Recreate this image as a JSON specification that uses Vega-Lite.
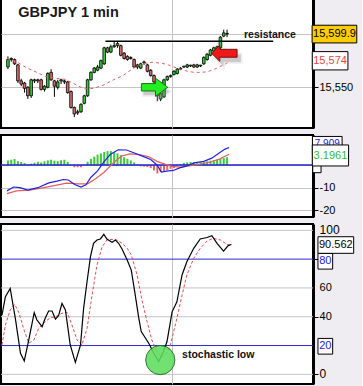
{
  "$schema": "https://vega.github.io/schema/vega-lite/v6.json",
  "background": "#efedf1",
  "padding": {"left": -2, "top": -2, "right": 2, "bottom": 1},
  "spacing": 7,
  "bounds": "flush",
  "config": {
    "view": {"stroke": "black", "strokeWidth": 2, "fill": "white"},
    "font": "Liberation Sans",
    "axis": {"labelFont": "Liberation Sans", "labelFontSize": 11, "labelColor": "black", "tickColor": "black", "gridColor": "#c4c4c4", "domainColor": "black", "labelOverlap": false}
  },
  "datasets": {
    "one": [{}],
    "stochLabels": [
      {"v": 100, "w": "bold", "s": 12},
      {"v": 60, "w": "normal", "s": 11},
      {"v": 40, "w": "normal", "s": 11},
      {"v": 0, "w": "bold", "s": 12}
    ],
    "bars": [
      {"i":0,"o":15569,"h":15579,"l":15567,"c":15576,"m":2.0},
      {"i":1,"o":15576,"h":15578,"l":15574,"c":15577,"m":2.3},
      {"i":2,"o":15576,"h":15577,"l":15571,"c":15572,"m":2.6},
      {"i":3,"o":15571,"h":15572,"l":15554,"c":15556,"m":1.7},
      {"i":4,"o":15556,"h":15558,"l":15551,"c":15553,"m":1.3},
      {"i":5,"o":15554,"h":15555,"l":15545,"c":15549,"m":0.9},
      {"i":6,"o":15550,"h":15551,"l":15539,"c":15542,"m":0.2},
      {"i":7,"o":15542,"h":15558,"l":15540,"c":15557,"m":0.6},
      {"i":8,"o":15556,"h":15558,"l":15554,"c":15557,"m":1.0},
      {"i":9,"o":15557,"h":15558,"l":15554,"c":15556,"m":1.4},
      {"i":10,"o":15557,"h":15558,"l":15547,"c":15548,"m":1.1},
      {"i":11,"o":15548,"h":15552,"l":15546,"c":15551,"m":1.6},
      {"i":12,"o":15550,"h":15564,"l":15549,"c":15563,"m":2.0},
      {"i":13,"o":15564,"h":15567,"l":15556,"c":15557,"m":2.3},
      {"i":14,"o":15556,"h":15557,"l":15541,"c":15551,"m":1.9},
      {"i":15,"o":15550,"h":15557,"l":15548,"c":15555,"m":1.7},
      {"i":16,"o":15556,"h":15558,"l":15553,"c":15557,"m":2.1},
      {"i":17,"o":15556,"h":15557,"l":15553,"c":15555,"m":2.3},
      {"i":18,"o":15555,"h":15556,"l":15544,"c":15545,"m":1.4},
      {"i":19,"o":15546,"h":15547,"l":15530,"c":15531,"m":0.1},
      {"i":20,"o":15531,"h":15532,"l":15522,"c":15525,"m":-1.0},
      {"i":21,"o":15527,"h":15529,"l":15524,"c":15526,"m":-1.0},
      {"i":22,"o":15527,"h":15535,"l":15526,"c":15534,"m":-1.0},
      {"i":23,"o":15535,"h":15543,"l":15534,"c":15542,"m":0.1},
      {"i":24,"o":15542,"h":15558,"l":15541,"c":15557,"m":1.4},
      {"i":25,"o":15557,"h":15565,"l":15556,"c":15564,"m":2.7},
      {"i":26,"o":15564,"h":15569,"l":15563,"c":15568,"m":3.7},
      {"i":27,"o":15566,"h":15571,"l":15565,"c":15569,"m":4.6},
      {"i":28,"o":15568,"h":15576,"l":15567,"c":15575,"m":5.1},
      {"i":29,"o":15572,"h":15588,"l":15571,"c":15587,"m":5.7},
      {"i":30,"o":15587,"h":15588,"l":15582,"c":15583,"m":6.1},
      {"i":31,"o":15583,"h":15590,"l":15582,"c":15588,"m":6.1},
      {"i":32,"o":15588,"h":15593,"l":15587,"c":15589,"m":5.7},
      {"i":33,"o":15589,"h":15593,"l":15587,"c":15591,"m":5.1},
      {"i":34,"o":15589,"h":15590,"l":15579,"c":15580,"m":4.3},
      {"i":35,"o":15582,"h":15583,"l":15576,"c":15577,"m":3.4},
      {"i":36,"o":15579,"h":15580,"l":15575,"c":15576,"m":2.7},
      {"i":37,"o":15577,"h":15579,"l":15576,"c":15578,"m":2.0},
      {"i":38,"o":15576,"h":15577,"l":15568,"c":15569,"m":1.1},
      {"i":39,"o":15569,"h":15572,"l":15567,"c":15571,"m":0.1},
      {"i":40,"o":15568,"h":15573,"l":15567,"c":15572,"m":-0.6},
      {"i":41,"o":15573,"h":15575,"l":15571,"c":15573.8,"m":-0.7},
      {"i":42,"o":15571,"h":15572,"l":15564,"c":15565,"m":-0.9},
      {"i":43,"o":15566,"h":15567,"l":15560,"c":15561,"m":-1.4},
      {"i":44,"o":15561,"h":15562,"l":15553,"c":15555,"m":-2.4},
      {"i":45,"o":15555,"h":15556,"l":15537,"c":15542,"m":-3.7},
      {"i":46,"o":15539,"h":15545,"l":15537,"c":15544,"m":-3.1},
      {"i":47,"o":15541,"h":15558,"l":15540,"c":15557,"m":-2.7},
      {"i":48,"o":15557,"h":15561,"l":15556,"c":15560,"m":-2.3},
      {"i":49,"o":15560,"h":15562,"l":15559,"c":15561,"m":-1.7},
      {"i":50,"o":15562,"h":15566,"l":15561,"c":15565,"m":-1.3},
      {"i":51,"o":15563,"h":15568,"l":15562,"c":15567,"m":0.2},
      {"i":52,"o":15567,"h":15569,"l":15566,"c":15567.8,"m":0.4},
      {"i":53,"o":15569,"h":15570,"l":15568,"c":15569.8,"m":0.9},
      {"i":54,"o":15569,"h":15572,"l":15568,"c":15571,"m":1.1},
      {"i":55,"o":15570,"h":15571,"l":15569,"c":15570.8,"m":1.3},
      {"i":56,"o":15571,"h":15572,"l":15568,"c":15569,"m":1.3},
      {"i":57,"o":15569,"h":15572,"l":15568,"c":15571,"m":1.2},
      {"i":58,"o":15570,"h":15571,"l":15569,"c":15570.8,"m":1.2},
      {"i":59,"o":15572,"h":15579,"l":15571,"c":15578,"m":1.3},
      {"i":60,"o":15576,"h":15582,"l":15575,"c":15581,"m":1.6},
      {"i":61,"o":15580,"h":15586,"l":15579,"c":15585,"m":1.9},
      {"i":62,"o":15584,"h":15588,"l":15583,"c":15587,"m":2.1},
      {"i":63,"o":15586,"h":15589,"l":15585,"c":15588,"m":2.4},
      {"i":64,"o":15587,"h":15598,"l":15586,"c":15597,"m":2.7},
      {"i":65,"o":15598,"h":15604,"l":15597,"c":15601,"m":3.0},
      {"i":66,"o":15600.6,"h":15604,"l":15597,"c":15599.9,"m":3.4}
    ],
    "ma": [
      {"t":-0.3,"v":15577},{"t":2.6,"v":15574},{"t":5.5,"v":15568.5},{"t":9.4,"v":15563},{"t":11.4,"v":15560},
      {"t":14.3,"v":15558.5},{"t":17.2,"v":15557.5},{"t":20.1,"v":15553},{"t":23,"v":15548.5},{"t":25.9,"v":15549},
      {"t":28.9,"v":15552.3},{"t":31.8,"v":15557},{"t":34.7,"v":15561},{"t":37.6,"v":15567.6},{"t":40.5,"v":15572},
      {"t":43.4,"v":15573.5},{"t":46.4,"v":15572.5},{"t":48.3,"v":15571},{"t":51.2,"v":15567.6},{"t":54.1,"v":15565},
      {"t":56.1,"v":15564},{"t":58,"v":15564},{"t":60,"v":15564.5},{"t":61.9,"v":15566.5},{"t":63.9,"v":15569.5},
      {"t":65.8,"v":15572.3},{"t":66.5,"v":15574}
    ],
    "macd": [
      {"t":-0.3,"v":-11.4},{"t":1.7,"v":-9.7},{"t":3.6,"v":-10},{"t":6,"v":-11.1},{"t":9,"v":-10},{"t":12.3,"v":-7.9},
      {"t":14.8,"v":-7.1},{"t":16.7,"v":-6.4},{"t":18.2,"v":-6.6},{"t":20.1,"v":-8.6},{"t":22,"v":-9.7},{"t":23.5,"v":-8.7},
      {"t":25,"v":-5.4},{"t":27,"v":-2.6},{"t":28.9,"v":1.4},{"t":30.8,"v":4.6},{"t":33.2,"v":6.7},{"t":35.7,"v":6.6},
      {"t":38.1,"v":5.3},{"t":40.5,"v":3.9},{"t":43,"v":2.4},{"t":44.9,"v":0},{"t":46.2,"v":-3.1},{"t":47.8,"v":-2.7},
      {"t":49.8,"v":-2.4},{"t":51.7,"v":-1.3},{"t":54.1,"v":-0.3},{"t":56.1,"v":0.9},{"t":59,"v":1.6},{"t":61.4,"v":3},
      {"t":63.4,"v":5.1},{"t":65.4,"v":7},{"t":66.6,"v":7.7}
    ],
    "sig": [
      {"t":-0.3,"v":-12.6},{"t":2.6,"v":-11.4},{"t":6.5,"v":-11.1},{"t":10.4,"v":-10.1},{"t":14.3,"v":-9},{"t":17.7,"v":-8},
      {"t":21.1,"v":-8.3},{"t":24,"v":-8.3},{"t":26.4,"v":-6.1},{"t":28.9,"v":-3.3},{"t":31.8,"v":1},{"t":34.2,"v":3.9},
      {"t":36.7,"v":4.9},{"t":39.6,"v":4.6},{"t":42.5,"v":3.6},{"t":44.9,"v":1.6},{"t":47.3,"v":0.4},{"t":49.3,"v":-0.6},
      {"t":52.2,"v":-0.9},{"t":55.1,"v":-0.3},{"t":58,"v":0.4},{"t":61,"v":1.3},{"t":63.9,"v":2.7},{"t":66.6,"v":4.7}
    ],
    "k": [
      {"t":-0.3,"v":41.2},{"t":0.7,"v":53.9},{"t":2.1,"v":59.7},{"t":3.6,"v":38.9},{"t":5.1,"v":14.6},{"t":6.2,"v":9.3},
      {"t":7.5,"v":23.8},{"t":9.1,"v":42.8},{"t":9.9,"v":37.7},{"t":11.4,"v":33.1},{"t":12.3,"v":38.9},{"t":13.3,"v":44},
      {"t":14.3,"v":44},{"t":15.3,"v":38.4},{"t":16.2,"v":40.7},{"t":17.2,"v":49.3},{"t":18.2,"v":44.7},{"t":19.6,"v":20.4},
      {"t":21.1,"v":8.3},{"t":22.6,"v":20.4},{"t":23.5,"v":45.8},{"t":24.5,"v":64.3},{"t":25.5,"v":81.7},{"t":26.4,"v":91},
      {"t":27.4,"v":93.3},{"t":28.4,"v":94},{"t":29.4,"v":97.2},{"t":30.3,"v":94},{"t":31.8,"v":91.7},{"t":32.8,"v":93.3},
      {"t":33.7,"v":91},{"t":34.7,"v":87},{"t":36.2,"v":79.4},{"t":37.4,"v":72.4},{"t":38.4,"v":57.4},{"t":39.6,"v":38.9},
      {"t":40.3,"v":29.7},{"t":42.5,"v":21.6},{"t":43.9,"v":15},{"t":45.4,"v":9},{"t":46.8,"v":16},{"t":47.8,"v":22.6},
      {"t":49.3,"v":43.4},{"t":50.7,"v":50.4},{"t":52.2,"v":69},{"t":53.6,"v":78.2},{"t":55.6,"v":87.5},{"t":57.5,"v":94},
      {"t":59.5,"v":95},{"t":60.9,"v":96.3},{"t":62.4,"v":91},{"t":64.3,"v":85.6},{"t":65.6,"v":89.3},{"t":66.6,"v":90.2}
    ],
    "d": [
      {"t":-0.3,"v":20.4},{"t":0.7,"v":34.3},{"t":2.1,"v":44.7},{"t":3.4,"v":48.6},{"t":4.6,"v":43},{"t":6.0,"v":31.9},
      {"t":7.5,"v":21.6},{"t":9.0,"v":23.8},{"t":10.4,"v":31.9},{"t":12.3,"v":36.6},{"t":13.8,"v":39.3},{"t":15.3,"v":40},
      {"t":17.2,"v":42.4},{"t":18.7,"v":43},{"t":20.1,"v":34.3},{"t":21.6,"v":23.8},{"t":23.0,"v":20.4},{"t":24.5,"v":31.9},
      {"t":25.9,"v":53.9},{"t":27.4,"v":75.9},{"t":28.9,"v":88.6},{"t":30.3,"v":93.3},{"t":31.8,"v":93.7},{"t":33.2,"v":93.3},
      {"t":34.7,"v":91},{"t":36.2,"v":87.6},{"t":37.4,"v":83},{"t":39.1,"v":69},{"t":40.5,"v":51.6},{"t":42.0,"v":36.6},
      {"t":43.4,"v":23.8},{"t":44.9,"v":15.7},{"t":46.4,"v":12},{"t":47.8,"v":15},{"t":48.8,"v":20.4},{"t":50.7,"v":38.9},
      {"t":52.2,"v":55},{"t":53.6,"v":69},{"t":55.6,"v":80.5},{"t":57.5,"v":87.5},{"t":59.5,"v":92.6},{"t":61.3,"v":94.4},
      {"t":63.4,"v":93.3},{"t":65.3,"v":90.2},{"t":66.6,"v":90.2}
    ]
  },
  "vconcat": [
    {
      "width": 312, "height": 129,
      "layer": [
        {
          "data": {"name": "bars"},
          "mark": {"type": "rule", "color": "black", "strokeWidth": 1},
          "encoding": {
            "x": {"field": "i", "type": "quantitative", "scale": {"domain": [-0.583, 90.379], "nice": false, "zero": false},
                  "axis": {"orient": "bottom", "values": [49.3], "grid": true, "labels": false, "ticks": false, "domain": false, "title": null}},
            "y": {"field": "l", "type": "quantitative", "scale": {"domain": [15511.8, 15632.8], "nice": false, "zero": false},
                  "axis": {"orient": "right", "values": [15550, 15600], "labelExpr": "datum.value == 15550 ? '15,550' : ''", "labelOverlap": false, "grid": true, "tickSize": 5, "labelPadding": 1, "domain": true, "domainWidth": 3, "title": null}},
            "y2": {"field": "h"}
          }
        },
        {
          "data": {"name": "bars"},
          "mark": {"type": "bar", "size": 2.6, "stroke": "black", "strokeWidth": 0.8},
          "encoding": {
            "x": {"field": "i", "type": "quantitative"},
            "y": {"field": "o", "type": "quantitative"},
            "y2": {"field": "c"},
            "fill": {"condition": {"test": "datum.c >= datum.o", "value": "#35c935"}, "value": "#d96b6b"}
          }
        },
        {
          "data": {"name": "ma"},
          "mark": {"type": "line", "color": "#e06060", "strokeWidth": 1, "strokeDash": [3, 3]},
          "encoding": {"x": {"field": "t", "type": "quantitative"}, "y": {"field": "v", "type": "quantitative"}}
        },
        {
          "data": {"name": "one"},
          "mark": {"type": "rule", "color": "black", "strokeWidth": 1.3},
          "encoding": {"x": {"datum": 29.36, "type": "quantitative"}, "x2": {"datum": 79.9}, "y": {"datum": 15593.15, "type": "quantitative"}}
        },
        {
          "data": {"name": "one"},
          "mark": {"type": "text", "text": "GBPJPY 1 min", "font": "Liberation Sans", "fontSize": 14.5, "fontWeight": "bold", "align": "left", "baseline": "alphabetic", "color": "#1a1a1a"},
          "encoding": {"x": {"datum": 3.12, "type": "quantitative"}, "y": {"datum": 15616.2, "type": "quantitative"}}
        },
        {
          "data": {"name": "one"},
          "mark": {"type": "text", "text": "resistance", "font": "Liberation Sans", "fontSize": 10.5, "fontWeight": "bold", "align": "left", "baseline": "alphabetic", "color": "#111111"},
          "encoding": {"x": {"datum": 71.1, "type": "quantitative"}, "y": {"datum": 15596, "type": "quantitative"}}
        },
        {
          "data": {"name": "one"},
          "mark": {"type": "point", "shape": "M-1,-0.28L0.07,-0.28L0.07,-0.69L1,0L0.07,0.69L0.07,0.28L-1,0.28Z", "size": 697, "filled": true, "fill": "#888888", "opacity": 0.45, "stroke": "#aaaaaa", "strokeWidth": 3, "strokeOpacity": 0.4},
          "encoding": {"x": {"datum": 44.75, "type": "quantitative"}, "y": {"datum": 15546.1, "type": "quantitative"}}
        },
        {
          "data": {"name": "one"},
          "mark": {"type": "point", "shape": "M-1,-0.28L0.07,-0.28L0.07,-0.69L1,0L0.07,0.69L0.07,0.28L-1,0.28Z", "size": 697, "filled": true, "fill": "#22ee22", "opacity": 1, "stroke": "#117711", "strokeWidth": 1},
          "encoding": {"x": {"datum": 44.17, "type": "quantitative"}, "y": {"datum": 15550.0, "type": "quantitative"}}
        },
        {
          "data": {"name": "one"},
          "mark": {"type": "point", "shape": "M1,-0.31L-0.35,-0.31L-0.35,-0.63L-1,0L-0.35,0.63L-0.35,0.31L1,0.31Z", "size": 655, "filled": true, "fill": "#888888", "opacity": 0.45, "stroke": "#aaaaaa", "strokeWidth": 3, "strokeOpacity": 0.4},
          "encoding": {"x": {"datum": 66.33, "type": "quantitative"}, "y": {"datum": 15577.2, "type": "quantitative"}}
        },
        {
          "data": {"name": "one"},
          "mark": {"type": "point", "shape": "M1,-0.31L-0.35,-0.31L-0.35,-0.63L-1,0L-0.35,0.63L-0.35,0.31L1,0.31Z", "size": 655, "filled": true, "fill": "#ee1818", "opacity": 1, "stroke": "#771111", "strokeWidth": 1},
          "encoding": {"x": {"datum": 65.16, "type": "quantitative"}, "y": {"datum": 15581.9, "type": "quantitative"}}
        },
        {
          "data": {"name": "one"},
          "mark": {"type": "point", "shape": "M-1,-0.396L1,-0.396L1,0.396L-1,0.396Z", "size": 1998, "filled": true, "fill": "#ffcc00", "opacity": 1, "stroke": "black", "strokeWidth": 1},
          "encoding": {"x": {"datum": 98.34, "type": "quantitative"}, "y": {"datum": 15599.9, "type": "quantitative"}}
        },
        {
          "data": {"name": "one"},
          "mark": {"type": "text", "text": "15,599.9", "fontSize": 11, "align": "center", "baseline": "middle", "color": "black"},
          "encoding": {"x": {"datum": 98.34, "type": "quantitative"}, "y": {"datum": 15599.9, "type": "quantitative"}}
        },
        {
          "data": {"name": "one"},
          "mark": {"type": "point", "shape": "M-1,-0.513L1,-0.513L1,0.513L-1,0.513Z", "size": 1274, "filled": true, "fill": "white", "opacity": 1, "stroke": "black", "strokeWidth": 1},
          "encoding": {"x": {"datum": 97.03, "type": "quantitative"}, "y": {"datum": 15574.86, "type": "quantitative"}}
        },
        {
          "data": {"name": "one"},
          "mark": {"type": "text", "text": "15,574", "fontSize": 11, "align": "center", "baseline": "middle", "color": "#e04848"},
          "encoding": {"x": {"datum": 97.03, "type": "quantitative"}, "y": {"datum": 15574.86, "type": "quantitative"}}
        }
      ]
    },
    {
      "width": 312, "height": 82,
      "layer": [
        {
          "data": {"name": "bars"},
          "mark": {"type": "bar", "size": 2},
          "encoding": {
            "x": {"field": "i", "type": "quantitative", "scale": {"domain": [-0.583, 90.379], "nice": false, "zero": false},
                  "axis": {"orient": "bottom", "values": [49.3], "grid": true, "labels": false, "ticks": false, "domain": false, "title": null}},
            "y": {"field": "m", "type": "quantitative", "scale": {"domain": [-22.9, 13.2], "nice": false, "zero": false},
                  "axis": {"orient": "right", "values": [-20, -10, 0], "labelExpr": "datum.value == 0 ? '' : '' + datum.value", "labelOverlap": false, "grid": true, "tickSize": 5, "labelPadding": 1, "domain": true, "domainWidth": 3, "title": null}},
            "y2": {"datum": 0},
            "fill": {"condition": {"test": "datum.m >= 0", "value": "#3cc83c"}, "value": "#e06868"}
          }
        },
        {
          "data": {"name": "one"},
          "mark": {"type": "rule", "color": "#2020d0", "strokeWidth": 1.5},
          "encoding": {"y": {"datum": 0, "type": "quantitative"}}
        },
        {
          "data": {"name": "sig"},
          "mark": {"type": "line", "color": "#e06060", "strokeWidth": 1.2},
          "encoding": {"x": {"field": "t", "type": "quantitative"}, "y": {"field": "v", "type": "quantitative"}}
        },
        {
          "data": {"name": "macd"},
          "mark": {"type": "line", "color": "#2222dd", "strokeWidth": 1.2},
          "encoding": {"x": {"field": "t", "type": "quantitative"}, "y": {"field": "v", "type": "quantitative"}}
        },
        {
          "data": {"name": "one"},
          "mark": {"type": "point", "shape": "M-1,-2.17L1,-2.17L1,2.17L-1,2.17Z", "size": 69, "filled": true, "fill": "white", "opacity": 1, "stroke": "black", "strokeWidth": 1},
          "encoding": {"x": {"datum": 93.06, "type": "quantitative"}, "y": {"datum": 0.57, "type": "quantitative"}}
        },
        {
          "data": {"name": "one"},
          "mark": {"type": "point", "shape": "M-1,-0.606L1,-0.606L1,0.606L-1,0.606Z", "size": 882, "filled": true, "fill": "white", "opacity": 1, "stroke": "black", "strokeWidth": 1},
          "encoding": {"x": {"datum": 96.18, "type": "quantitative"}, "y": {"datum": 8.6, "type": "quantitative"}}
        },
        {
          "data": {"name": "one"},
          "mark": {"type": "text", "text": "7.909", "fontSize": 10, "align": "center", "baseline": "middle", "color": "#2020e0"},
          "encoding": {"x": {"datum": 96.18, "type": "quantitative"}, "y": {"datum": 9.3, "type": "quantitative"}}
        },
        {
          "data": {"name": "one"},
          "mark": {"type": "point", "shape": "M-1,-0.579L1,-0.579L1,0.579L-1,0.579Z", "size": 1318, "filled": true, "fill": "white", "opacity": 1, "stroke": "black", "strokeWidth": 1},
          "encoding": {"x": {"datum": 97.14, "type": "quantitative"}, "y": {"datum": 4.19, "type": "quantitative"}}
        },
        {
          "data": {"name": "one"},
          "mark": {"type": "text", "text": "3.1961", "fontSize": 11, "align": "center", "baseline": "middle", "color": "#33bb33"},
          "encoding": {"x": {"datum": 97.14, "type": "quantitative"}, "y": {"datum": 3.9, "type": "quantitative"}}
        }
      ]
    },
    {
      "width": 312, "height": 160,
      "layer": [
        {
          "data": {"name": "one"},
          "mark": {"type": "rule", "color": "#c4c4c4", "strokeWidth": 1},
          "encoding": {
            "x": {"datum": -0.583, "type": "quantitative", "scale": {"domain": [-0.583, 90.379], "nice": false, "zero": false},
                  "axis": {"orient": "bottom", "values": [49.3], "grid": true, "labels": false, "ticks": false, "domain": false, "title": null}},
            "y": {"datum": 60, "type": "quantitative", "scale": {"domain": [-6.7, 104.4], "nice": false, "zero": false},
                  "axis": {"orient": "right", "values": [0, 10, 20, 30, 40, 50, 60, 70, 80, 90, 100],
                           "labels": false, "tickSize": 5, "grid": false, "domain": true, "domainWidth": 3, "title": null}},
            "x2": {"datum": 90.379}
          }
        },
        {
          "data": {"name": "one"},
          "mark": {"type": "rule", "color": "#c4c4c4", "strokeWidth": 1},
          "encoding": {"y": {"datum": 40, "type": "quantitative"}}
        },
        {
          "data": {"name": "one"},
          "mark": {"type": "rule", "color": "#c4c4c4", "strokeWidth": 1},
          "encoding": {"y": {"datum": 0, "type": "quantitative"}}
        },
        {
          "data": {"name": "one"},
          "mark": {"type": "rule", "color": "#c4c4c4", "strokeWidth": 1},
          "encoding": {"y": {"datum": 100, "type": "quantitative"}}
        },
        {
          "data": {"name": "one"},
          "mark": {"type": "rule", "color": "#2a2ad0", "strokeWidth": 1},
          "encoding": {"y": {"datum": 80, "type": "quantitative"}}
        },
        {
          "data": {"name": "one"},
          "mark": {"type": "rule", "color": "#2a2ad0", "strokeWidth": 1},
          "encoding": {"y": {"datum": 20, "type": "quantitative"}}
        },
        {
          "data": {"name": "d"},
          "mark": {"type": "line", "color": "#e05050", "strokeWidth": 1, "strokeDash": [3, 2]},
          "encoding": {"x": {"field": "t", "type": "quantitative"}, "y": {"field": "v", "type": "quantitative"}}
        },
        {
          "data": {"name": "k"},
          "mark": {"type": "line", "color": "black", "strokeWidth": 1.2},
          "encoding": {"x": {"field": "t", "type": "quantitative"}, "y": {"field": "v", "type": "quantitative"}}
        },
        {
          "data": {"name": "one"},
          "mark": {"type": "point", "shape": "circle", "size": 855, "filled": true, "fill": "#5ede5e", "opacity": 0.88, "stroke": "#206020", "strokeWidth": 1},
          "encoding": {"x": {"datum": 45.86, "type": "quantitative"}, "y": {"datum": 9.93, "type": "quantitative"}}
        },
        {
          "data": {"name": "one"},
          "mark": {"type": "text", "text": "stochastic low", "fontSize": 10.5, "fontWeight": "bold", "align": "left", "baseline": "alphabetic", "color": "#111111"},
          "encoding": {"x": {"datum": 52.2, "type": "quantitative"}, "y": {"datum": 11.3, "type": "quantitative"}}
        },
        {
          "data": {"name": "stochLabels"},
          "mark": {"type": "text", "align": "left", "baseline": "middle", "color": "black"},
          "encoding": {
            "x": {"datum": 92.3, "type": "quantitative"},
            "y": {"field": "v", "type": "quantitative"},
            "text": {"field": "v", "type": "quantitative"},
            "fontWeight": {"field": "w", "type": "nominal", "scale": null},
            "size": {"field": "s", "type": "quantitative", "scale": null}
          }
        },
        {
          "data": {"name": "one"},
          "mark": {"type": "point", "shape": "M-1,-1.07L1,-1.07L1,1.07L-1,1.07Z", "size": 216, "filled": true, "fill": "white", "opacity": 1, "stroke": "black", "strokeWidth": 1},
          "encoding": {"x": {"datum": 93.97, "type": "quantitative"}, "y": {"datum": 78.54, "type": "quantitative"}}
        },
        {
          "data": {"name": "one"},
          "mark": {"type": "text", "text": "80", "fontSize": 11, "align": "center", "baseline": "middle", "color": "#2020e0"},
          "encoding": {"x": {"datum": 93.97, "type": "quantitative"}, "y": {"datum": 78.54, "type": "quantitative"}}
        },
        {
          "data": {"name": "one"},
          "mark": {"type": "point", "shape": "M-1,-1.07L1,-1.07L1,1.07L-1,1.07Z", "size": 216, "filled": true, "fill": "white", "opacity": 1, "stroke": "black", "strokeWidth": 1},
          "encoding": {"x": {"datum": 93.97, "type": "quantitative"}, "y": {"datum": 19.51, "type": "quantitative"}}
        },
        {
          "data": {"name": "one"},
          "mark": {"type": "text", "text": "20", "fontSize": 11, "align": "center", "baseline": "middle", "color": "#2020e0"},
          "encoding": {"x": {"datum": 93.97, "type": "quantitative"}, "y": {"datum": 19.51, "type": "quantitative"}}
        },
        {
          "data": {"name": "one"},
          "mark": {"type": "point", "shape": "M-1,-0.465L1,-0.465L1,0.465L-1,0.465Z", "size": 1274, "filled": true, "fill": "white", "opacity": 1, "stroke": "black", "strokeWidth": 1},
          "encoding": {"x": {"datum": 97.03, "type": "quantitative"}, "y": {"datum": 89.8, "type": "quantitative"}}
        },
        {
          "data": {"name": "one"},
          "mark": {"type": "text", "text": "90.562", "fontSize": 11, "align": "center", "baseline": "middle", "color": "black"},
          "encoding": {"x": {"datum": 97.03, "type": "quantitative"}, "y": {"datum": 89.8, "type": "quantitative"}}
        }
      ]
    }
  ]
}
